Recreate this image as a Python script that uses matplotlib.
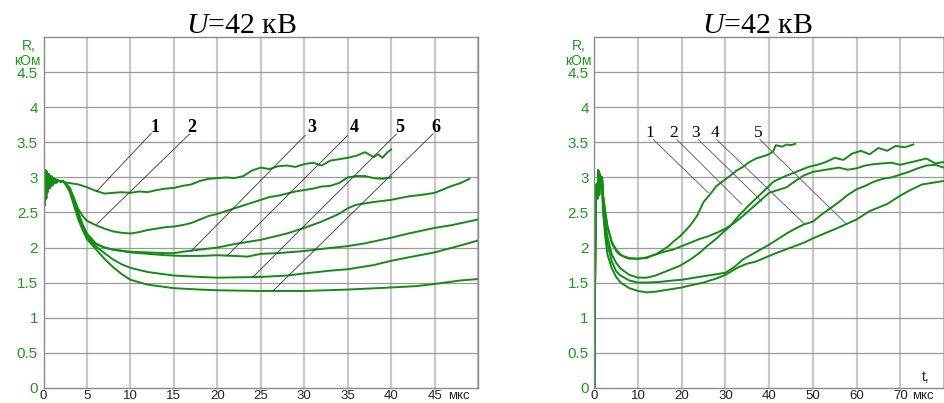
import numpy as np
import matplotlib.pyplot as plt

plt.rcParams['font.family'] = ['Liberation Sans', 'DejaVu Sans']
plt.rcParams['mathtext.fontset'] = 'custom'
plt.rcParams['mathtext.it'] = 'Liberation Serif:italic'
plt.rcParams['mathtext.rm'] = 'Liberation Serif'

GREEN = '#138c13'
TICK_GREEN = '#1a9a1a'

# ---- left panel: U=42 kV, curves 1..6 ----
spike_l_t = [0, 0.05, 0.1, 0.2, 0.3, 0.4, 0.5, 0.6, 0.7, 0.8, 0.9, 1.0, 1.1, 1.2, 1.3, 1.4, 1.5, 1.6, 1.8, 2.0, 2.2]
spike_l_r = [0, 3.15, 2.6, 3.1, 2.7, 3.08, 2.8, 3.05, 2.85, 3.02, 2.88, 3.0, 2.9, 2.98, 2.92, 2.97, 2.93, 2.96, 2.95, 2.94, 2.95]

c1_t = [2.4, 3, 4, 5, 6, 7, 8, 9, 10, 11, 12, 13, 14, 15, 16, 17, 18, 19, 20, 21, 22, 23, 24, 25, 26, 27, 28,
        29, 30, 31, 32, 33, 34, 35, 36, 37, 38, 38.5, 39, 39.5, 40]
c1_r = [2.93, 2.92, 2.9, 2.86, 2.81, 2.77, 2.78, 2.79, 2.78, 2.80, 2.79, 2.82, 2.84, 2.85, 2.88, 2.90, 2.95, 2.98,
        2.99, 3.0, 2.99, 3.02, 3.10, 3.14, 3.12, 3.16, 3.17, 3.15, 3.19, 3.21, 3.17, 3.24, 3.26, 3.28, 3.31, 3.36,
        3.29, 3.33, 3.28, 3.35, 3.40]

c2_t = [2.4, 3, 3.5, 4, 4.5, 5, 5.5, 6, 7, 8, 9, 10, 11, 12, 13, 14, 15, 16, 17, 18, 19, 20, 21, 22, 23, 24, 25,
        26, 27, 28, 29, 30, 31, 32, 33, 34, 35, 36, 37, 38, 39, 40]
c2_r = [2.93, 2.85, 2.7, 2.55, 2.45, 2.38, 2.35, 2.32, 2.27, 2.23, 2.21, 2.20, 2.22, 2.25, 2.27, 2.29, 2.30, 2.32,
        2.35, 2.40, 2.45, 2.48, 2.52, 2.56, 2.60, 2.64, 2.68, 2.72, 2.74, 2.77, 2.80, 2.82, 2.84, 2.87, 2.88, 2.92,
        3.0, 3.02, 3.02, 2.99, 2.98, 3.0]

c3_t = [2.4, 3, 3.5, 4, 4.5, 5, 6, 7, 8, 10, 12, 14, 15, 16, 18, 20, 22, 24, 25, 26, 28, 30, 32, 34, 35, 36, 38,
        40, 42, 44, 45, 46, 47, 48, 49]
c3_r = [2.93, 2.85, 2.7, 2.5, 2.33, 2.2, 2.06, 2.0, 1.97, 1.94, 1.93, 1.92, 1.92, 1.94, 1.97, 2.0, 2.05, 2.09,
        2.11, 2.14, 2.2, 2.28, 2.37, 2.48, 2.56, 2.61, 2.65, 2.68, 2.73, 2.76, 2.78, 2.83, 2.88, 2.92, 2.98]

c4_t = [2.4, 3, 3.5, 4, 4.5, 5, 6, 7, 8, 10, 12, 14, 16, 18, 20, 22, 23.5, 25, 27, 30, 32, 35, 37, 40, 42, 45,
        47, 50]
c4_r = [2.93, 2.82, 2.65, 2.45, 2.3, 2.18, 2.05, 2.0, 1.97, 1.93, 1.91, 1.89, 1.88, 1.88, 1.89, 1.88, 1.87, 1.91,
        1.92, 1.95, 1.98, 2.02, 2.06, 2.14, 2.2, 2.28, 2.32, 2.40]

c5_t = [2.4, 3, 3.5, 4, 4.5, 5, 6, 7, 8, 9, 10, 12, 15, 18, 20, 25, 28, 30, 33, 35, 38, 40, 42, 45, 48, 50]
c5_r = [2.93, 2.85, 2.7, 2.5, 2.3, 2.15, 2.02, 1.92, 1.83, 1.76, 1.71, 1.65, 1.60, 1.58, 1.57, 1.58, 1.60, 1.63,
        1.67, 1.69, 1.75, 1.81, 1.86, 1.93, 2.03, 2.10]

c6_t = [2.4, 3, 3.5, 4, 4.5, 5, 6, 7, 8, 9, 10, 12, 15, 18, 20, 25, 30, 35, 40, 43, 45, 48, 50]
c6_r = [2.93, 2.8, 2.6, 2.4, 2.25, 2.12, 1.98, 1.84, 1.72, 1.62, 1.54, 1.47, 1.42, 1.40, 1.39, 1.38, 1.38, 1.40,
        1.43, 1.45, 1.48, 1.53, 1.55]

left_curves = [(c1_t, c1_r), (c2_t, c2_r), (c3_t, c3_r), (c4_t, c4_r), (c5_t, c5_r), (c6_t, c6_r)]
left_labels = ['1', '2', '3', '4', '5', '6']
left_label_t = [12.8, 17.1, 30.9, 35.8, 41.0, 45.2]
left_lead_start = [(12.4, 3.63), (16.8, 3.62), (30.1, 3.60), (35.0, 3.60), (40.6, 3.62), (44.8, 3.62)]
left_lead_end = [(6.1, 2.80), (6.1, 2.33), (17.0, 1.95), (21.1, 1.88), (24.1, 1.58), (26.4, 1.38)]

# ---- right panel: U=42 kV, curves 1..5 ----
spike_r_t = [0, 0.1, 0.3, 0.5, 0.7, 0.9, 1.1, 1.3, 1.5, 1.7]
spike_r_r = [0, 1.0, 2.6, 2.9, 2.7, 3.1, 2.75, 3.05, 2.85, 3.0]

r1_t = [1.8, 2, 2.5, 3, 4, 5, 6, 7, 8, 10, 12, 13, 14, 15.8, 17, 18, 19.6, 21, 22, 23.5, 25, 26.5, 28, 29.5, 31,
        32.6, 34, 35.5, 37, 38.5, 40, 41, 41.5, 43, 44, 45, 46]
r1_r = [3.0, 2.75, 2.5, 2.3, 2.08, 1.97, 1.9, 1.86, 1.84, 1.84, 1.85, 1.88, 1.90, 1.97, 2.02, 2.08, 2.16, 2.25,
        2.32, 2.45, 2.65, 2.76, 2.88, 2.95, 3.02, 3.10, 3.15, 3.22, 3.27, 3.30, 3.33, 3.38, 3.46, 3.44, 3.47, 3.46,
        3.48]

r2_t = [1.8, 2, 2.5, 3, 4, 5, 6, 8, 10, 12, 14, 16, 18, 19.6, 22, 24, 26, 28, 29.5, 31, 33, 35, 37, 39, 41, 43,
        45, 47, 49, 51, 53, 55, 57, 59, 61, 63, 65, 67, 69, 71, 73]
r2_r = [2.95, 2.6, 2.35, 2.15, 1.9, 1.78, 1.7, 1.61, 1.57, 1.57, 1.6, 1.65, 1.7, 1.74, 1.83, 1.92, 2.03, 2.13,
        2.22, 2.3, 2.45, 2.58, 2.70, 2.82, 2.94, 3.0, 3.05, 3.1, 3.15, 3.18, 3.22, 3.28, 3.25, 3.34, 3.38, 3.33,
        3.42, 3.38, 3.45, 3.43, 3.47]

r3_t = [1.8, 2, 2.5, 3, 4, 5, 6, 8, 10, 12, 14, 16, 18, 20, 22, 24, 26, 28, 30, 32, 34, 36, 38, 40, 42, 44, 46,
        48, 50, 52, 54, 56, 58, 60, 62, 64, 66, 68, 70, 72, 74, 76, 78, 80]
r3_r = [2.95, 2.75, 2.5, 2.3, 2.06, 1.95, 1.89, 1.85, 1.84, 1.86, 1.9, 1.94, 1.97, 2.02, 2.07, 2.12, 2.16, 2.21,
        2.27, 2.35, 2.45, 2.56, 2.67, 2.78, 2.82, 2.86, 2.95, 3.03, 3.08, 3.10, 3.12, 3.14, 3.11, 3.13, 3.17, 3.19,
        3.2, 3.21, 3.18, 3.21, 3.24, 3.27, 3.2, 3.22]

r4_t = [1.8, 2, 2.5, 3, 4, 5, 6, 8, 10, 12, 15, 18, 20, 22, 25, 28, 30, 32, 34, 36, 38, 40, 42, 44, 46, 48, 50,
        52, 54, 56, 58, 60, 62, 64, 66, 68, 70, 72, 74, 76, 78, 80]
r4_r = [2.9, 2.55, 2.25, 2.05, 1.8, 1.66, 1.6, 1.53, 1.50, 1.50, 1.51, 1.53, 1.54, 1.56, 1.59, 1.62, 1.64, 1.72,
        1.83, 1.9, 1.97, 2.04, 2.12, 2.2, 2.27, 2.33, 2.37, 2.47, 2.56, 2.65, 2.75, 2.83, 2.88, 2.94, 2.98, 3.0,
        3.04, 3.08, 3.13, 3.17, 3.18, 3.14]

r5_t = [1.8, 2, 2.5, 3, 4, 5, 6, 8, 10, 12, 14, 16, 18, 20, 22, 25, 28, 30, 33, 35, 37, 40, 42, 45, 48, 50, 53,
        55, 57.5, 60, 63, 65, 67, 70, 72, 75, 78, 80]
r5_r = [2.85, 2.5, 2.15, 1.9, 1.7, 1.58, 1.5, 1.42, 1.38, 1.36, 1.37, 1.39, 1.41, 1.43, 1.46, 1.5, 1.56, 1.61,
        1.72, 1.77, 1.8, 1.88, 1.93, 2.0, 2.07, 2.13, 2.21, 2.26, 2.33, 2.4, 2.52, 2.57, 2.62, 2.74, 2.81, 2.9,
        2.93, 2.95]

right_curves = [(r1_t, r1_r), (r2_t, r2_r), (r3_t, r3_r), (r4_t, r4_r), (r5_t, r5_r)]
right_labels = ['1', '2', '3', '4', '5']
right_label_t = [12.7, 18.1, 23.2, 27.6, 37.4]
right_lead_start = [(13.5, 3.54), (18.9, 3.54), (23.8, 3.54), (28.0, 3.54), (37.9, 3.54)]
right_lead_end = [(26.1, 2.78), (33.7, 2.62), (38.3, 2.66), (48.2, 2.33), (57.8, 2.33)]

y_ticks = [0, 0.5, 1, 1.5, 2, 2.5, 3, 3.5, 4, 4.5]


def setup(ax, xmax, xticks, unit_t):
    ax.set_xlim(0, xmax)
    ax.set_ylim(0, 5)
    ax.set_xticks(xticks)
    ax.set_xticklabels([str(x) for x in xticks], fontsize=9.5, color='#222222')
    ax.set_yticks(y_ticks)
    ax.set_yticklabels(['%g' % y for y in y_ticks], fontsize=11, color=TICK_GREEN)
    ax.tick_params(length=0, pad=4)
    ax.tick_params(axis='x', pad=1.5)
    # vertical grid light, horizontal darker
    for x in list(xticks[1:]) + [xmax]:
        ax.axvline(x, color='#c8c8c8', lw=1.6, zorder=0)
    for y in y_ticks[1:]:
        ax.axhline(y, color='#9a9a9a', lw=0.9, zorder=0)
    for s in ax.spines.values():
        s.set_color('#8a8a8a')
        s.set_linewidth(1.0)
    ax.annotate('R,', xy=(0, 4.88), xytext=(-6, 0), textcoords='offset points',
                ha='right', va='center', color=TICK_GREEN, fontsize=10, annotation_clip=False)
    ax.annotate('кОм', xy=(0, 4.66), xytext=(-2, 0), textcoords='offset points',
                ha='right', va='center', color=TICK_GREEN, fontsize=10, annotation_clip=False)
    # unit label in line with the tick labels
    ax.annotate('мкс', xy=(unit_t, 0), xytext=(0, -1.5), textcoords='offset points',
                ha='center', va='top', fontsize=9.5, color='#222222', annotation_clip=False)


fig = plt.figure(figsize=(9.44, 4.03), dpi=100)
axl = fig.add_axes([0.0461, 0.038, 0.4603, 0.8695])
axr = fig.add_axes([0.6296, 0.038, 0.3703, 0.8695])

setup(axl, 50, list(range(0, 50, 5)), 47.8)
setup(axr, 80, list(range(0, 80, 10)), 75.2)

# left curves
for t, r in left_curves:
    axl.plot(spike_l_t + t, spike_l_r + r, color=GREEN, lw=1.4)
for lab, lt, (x0, y0), (x1, y1) in zip(left_labels, left_label_t, left_lead_start, left_lead_end):
    axl.plot([x0, x1], [y0, y1], color='#333333', lw=0.6)
    axl.text(lt, 3.71, lab, ha='center', va='center', fontsize=13, fontweight='bold',
             family='Liberation Serif')

# right curves
for t, r in right_curves:
    axr.plot(spike_r_t + t, spike_r_r + r, color=GREEN, lw=1.4)
for lab, lt, (x0, y0), (x1, y1) in zip(right_labels, right_label_t, right_lead_start, right_lead_end):
    axr.plot([x0, x1], [y0, y1], color='#555555', lw=0.6)
    axr.text(lt, 3.64, lab, ha='center', va='center', fontsize=12.5, family='Liberation Serif')
axr.text(75.8, 0.05, 't,', ha='center', va='bottom', fontsize=10, color='#222222')

# titles
fig.text(241 / 944, 1 - 33 / 403, r'$U$=42 кВ', ha='center', va='baseline', fontsize=21.5,
         family='Liberation Serif')
fig.text(757 / 944, 1 - 33 / 403, r'$U$=42 кВ', ha='center', va='baseline', fontsize=21.5,
         family='Liberation Serif')

fig.savefig('out.png', dpi=100)
